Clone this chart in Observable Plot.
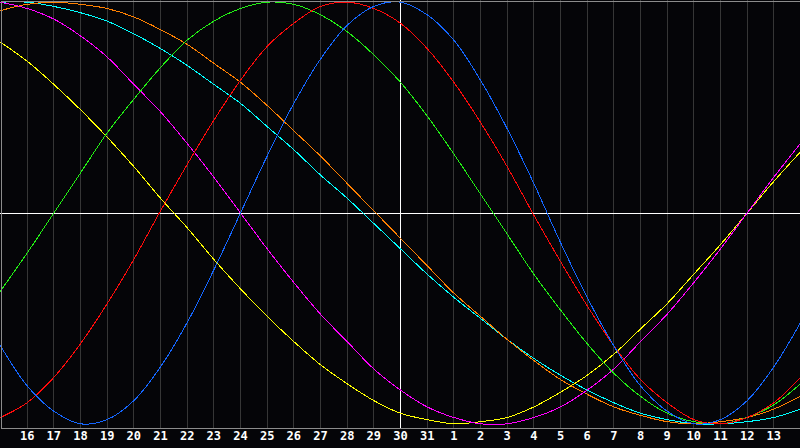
<!DOCTYPE html>
<html>
<head>
<meta charset="utf-8">
<script src="https://cdn.jsdelivr.net/npm/d3@7"></script>
<script src="https://cdn.jsdelivr.net/npm/@observablehq/plot@0.6"></script>
<style>
  html, body { margin: 0; padding: 0; background: #000; }
  #chart svg { display: block; }
</style>
</head>
<body>
<div id="chart"></div>
<script>
// Day labels for positions 0..30 (15th of one month to 14th of the next)
const dayLabels = [15,16,17,18,19,20,21,22,23,24,25,26,27,28,29,30,31,1,2,3,4,5,6,7,8,9,10,11,12,13,14];
const tickPositions = [1,2,3,4,5,6,7,8,9,10,11,12,13,14,15,16,17,18,19,20,21,22,23,24,25,26,27,28,29];
const todayPosition = 15;

// Daily values (-1 .. 1), one per day position 0..30
const physical = [-0.63,-0.82,-0.94,-1.00,-0.98,-0.89,-0.73,-0.52,-0.27,0.00,0.27,0.52,0.73,0.89,0.98,1.00,0.94,0.82,0.63,0.40,0.14,-0.14,-0.40,-0.63,-0.82,-0.94,-1.00,-0.98,-0.89,-0.73,-0.52];
const emotional = [-0.97,-0.90,-0.78,-0.62,-0.43,-0.22,0.01,0.23,0.44,0.63,0.79,0.90,0.98,1.00,0.97,0.90,0.78,0.62,0.43,0.22,-0.01,-0.23,-0.44,-0.63,-0.79,-0.90,-0.98,-1.00,-0.97,-0.90,-0.78];
const intellectual = [-0.37,-0.19,0.00,0.19,0.38,0.54,0.69,0.82,0.91,0.97,1.00,0.99,0.94,0.86,0.75,0.62,0.46,0.28,0.09,-0.10,-0.29,-0.46,-0.62,-0.76,-0.87,-0.95,-0.99,-1.00,-0.97,-0.91,-0.81];
const intuitive = [1.00,0.97,0.92,0.84,0.74,0.61,0.48,0.33,0.17,0.00,-0.17,-0.33,-0.48,-0.61,-0.74,-0.84,-0.92,-0.97,-1.00,-1.00,-0.97,-0.92,-0.84,-0.74,-0.61,-0.48,-0.33,-0.17,0.00,0.17,0.33];
const aesthetic = [0.81,0.72,0.61,0.49,0.36,0.22,0.07,-0.07,-0.22,-0.36,-0.49,-0.61,-0.72,-0.81,-0.89,-0.95,-0.98,-1.00,-0.99,-0.97,-0.92,-0.85,-0.77,-0.67,-0.55,-0.43,-0.29,-0.15,0.00,0.15,0.29];
const awareness = [0.96,0.99,1.00,0.99,0.97,0.93,0.87,0.80,0.71,0.62,0.51,0.39,0.27,0.14,0.01,-0.12,-0.25,-0.38,-0.49,-0.60,-0.70,-0.79,-0.86,-0.92,-0.96,-0.99,-1.00,-0.99,-0.97,-0.93,-0.87];
const spiritual = [1.00,1.00,0.98,0.95,0.91,0.85,0.78,0.70,0.61,0.52,0.41,0.30,0.18,0.07,-0.05,-0.17,-0.29,-0.40,-0.50,-0.60,-0.69,-0.77,-0.84,-0.90,-0.95,-0.98,-1.00,-1.00,-0.99,-0.97,-0.93];

const seriesNames = ["spiritual","awareness","aesthetic","intuitive","intellectual","emotional","physical"];
const seriesValues = [spiritual, awareness, aesthetic, intuitive, intellectual, emotional, physical];
const seriesColors = ["#00ffff","#ff8000","#ffff00","#ff00ff","#22f014","#ff0a0a","#1466ff"];

const lineMarks = seriesValues.map((vals, s) =>
  Plot.line(vals.map((v, i) => ({pos: i, value: v})), {
    x: "pos", y: "value", stroke: seriesColors[s], strokeWidth: 1,
    curve: "catmull-rom", shapeRendering: "crispEdges"
  })
);

const chart = Plot.plot({
  width: 800,
  height: 448,
  marginTop: 0,
  marginBottom: 20,
  marginLeft: 0,
  marginRight: 0,
  style: {background: "#050508", color: "#fff"},
  x: {domain: [0, 30], range: [0, 800], axis: null},
  y: {domain: [-1, 1], range: [423.3, 1.7], axis: null},
  marks: [
    Plot.ruleX(tickPositions, {stroke: "#363636", strokeWidth: 1, shapeRendering: "crispEdges"}),
    Plot.ruleY([0], {stroke: "#ffffff", strokeWidth: 1, shapeRendering: "crispEdges"}),
    Plot.ruleX([todayPosition], {stroke: "#ffffff", strokeWidth: 1, shapeRendering: "crispEdges"}),
    ...lineMarks,
    Plot.text(tickPositions, {
      x: d => d,
      frameAnchor: "bottom",
      dy: 11,
      text: d => String(dayLabels[d]),
      fill: "#ffffff",
      fontSize: 12,
      fontWeight: "bold",
      fontFamily: "DejaVu Sans Mono"
    }),
    Plot.frame({stroke: "#8c8c8c", inset: 0.5, shapeRendering: "crispEdges"})
  ]
});
document.getElementById("chart").appendChild(chart);
</script>
</body>
</html>
